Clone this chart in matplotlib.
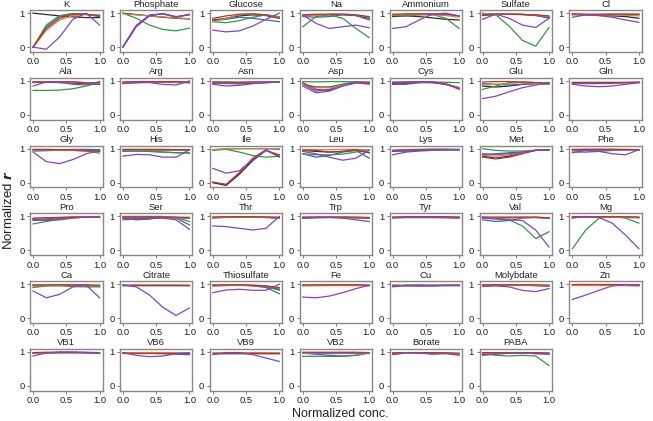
import matplotlib
matplotlib.use("Agg")
import matplotlib.pyplot as plt
import numpy as np

plt.rcParams['font.family'] = ['Liberation Sans', 'DejaVu Sans']

# panel names, row by row
names = ["K", "Phosphate", "Glucose", "Na", "Ammonium", "Sulfate", "Cl",
         "Ala", "Arg", "Asn", "Asp", "Cys", "Glu", "Gln",
         "Gly", "His", "Ile", "Leu", "Lys", "Met", "Phe",
         "Pro", "Ser", "Thr", "Trp", "Tyr", "Val", "Mg",
         "Ca", "Citrate", "Thiosulfate", "Fe", "Cu", "Molybdate", "Zn",
         "VB1", "VB6", "VB9", "VB2", "Borate", "PABA"]

# normalized conc. where curves were read
conc = [0.0, 0.2, 0.4, 0.6, 0.8, 1.0]

black_r = [
    [1.00, 0.96, 0.92, 0.89, 0.87, 0.87], [1.00, 0.96, 0.92, 0.88, 0.85, 0.83],
    [0.80, 0.85, 0.92, 0.95, 0.93, 0.85], [0.93, 0.95, 0.96, 0.96, 0.93, 0.85],
    [0.90, 0.92, 0.90, 0.86, 0.82, 0.80], [0.95, 0.96, 0.97, 0.96, 0.93, 0.88],
    [0.97, 0.95, 0.93, 0.92, 0.90, 0.85],
    [0.97, 0.96, 0.95, 0.94, 0.92, 0.90], [0.95, 0.96, 0.97, 0.97, 0.96, 0.95],
    [0.95, 0.93, 0.92, 0.93, 0.95, 0.96], [0.90, 0.82, 0.82, 0.90, 0.95, 0.93],
    [0.90, 0.93, 0.95, 0.95, 0.90, 0.80], [0.85, 0.82, 0.85, 0.90, 0.92, 0.90],
    [0.95, 0.94, 0.93, 0.94, 0.95, 0.96],
    [0.97, 0.96, 0.95, 0.95, 0.94, 0.93], [0.97, 0.96, 0.96, 0.96, 0.96, 0.96],
    [0.00, -0.08, 0.25, 0.65, 0.95, 0.78], [0.95, 0.92, 0.90, 0.92, 0.95, 0.88],
    [0.93, 0.94, 0.95, 0.96, 0.97, 0.97], [0.78, 0.72, 0.78, 0.88, 0.95, 0.95],
    [0.95, 0.96, 0.96, 0.96, 0.95, 0.95],
    [0.92, 0.94, 0.96, 0.98, 0.98, 0.98], [0.96, 0.95, 0.95, 0.96, 0.96, 0.95],
    [0.97, 0.98, 0.98, 0.98, 0.97, 0.96], [0.96, 0.97, 0.97, 0.97, 0.96, 0.95],
    [0.97, 0.98, 0.98, 0.98, 0.98, 0.97], [0.97, 0.96, 0.96, 0.97, 0.97, 0.95],
    [0.98, 0.98, 0.98, 0.98, 0.98, 0.97],
    [0.96, 0.96, 0.97, 0.97, 0.96, 0.95], [0.97, 0.97, 0.97, 0.97, 0.97, 0.97],
    [0.95, 0.96, 0.97, 0.96, 0.93, 0.85], [0.96, 0.97, 0.97, 0.97, 0.97, 0.96],
    [0.97, 0.97, 0.97, 0.97, 0.97, 0.97], [0.97, 0.97, 0.97, 0.97, 0.96, 0.95],
    [0.98, 0.98, 0.98, 0.98, 0.98, 0.97],
    [0.97, 0.98, 0.98, 0.98, 0.98, 0.97], [0.97, 0.97, 0.97, 0.97, 0.96, 0.95],
    [0.97, 0.97, 0.97, 0.97, 0.97, 0.97], [0.98, 0.98, 0.98, 0.98, 0.98, 0.97],
    [0.96, 0.97, 0.97, 0.97, 0.96, 0.95], [0.96, 0.97, 0.97, 0.97, 0.96, 0.95],
]

red_r = [
    [0.00, 0.55, 0.85, 0.97, 0.97, 0.92], [0.00, 0.62, 0.93, 0.98, 0.88, 0.96],
    [0.85, 0.92, 0.97, 0.98, 0.95, 0.85], [0.95, 0.97, 0.97, 0.97, 0.95, 0.90],
    [0.97, 0.98, 0.98, 0.97, 0.97, 0.92], [0.95, 0.97, 0.97, 0.96, 0.95, 0.92],
    [0.98, 0.97, 0.97, 0.97, 0.97, 0.97],
    [0.97, 0.97, 0.97, 0.97, 0.94, 0.90], [0.97, 0.98, 0.98, 0.98, 0.98, 0.97],
    [0.97, 0.96, 0.96, 0.97, 0.97, 0.97], [0.95, 0.75, 0.72, 0.85, 0.95, 0.97],
    [0.92, 0.95, 0.98, 0.97, 0.92, 0.75], [0.97, 0.98, 0.98, 0.97, 0.95, 0.93],
    [0.97, 0.97, 0.97, 0.97, 0.97, 0.97],
    [0.98, 0.98, 0.97, 0.96, 0.95, 0.92], [0.98, 0.98, 0.98, 0.98, 0.97, 0.97],
    [0.02, -0.05, 0.30, 0.72, 0.97, 0.75], [0.95, 0.95, 0.90, 0.92, 0.97, 0.88],
    [0.95, 0.96, 0.97, 0.97, 0.97, 0.97], [0.75, 0.70, 0.75, 0.85, 0.95, 0.97],
    [0.98, 0.98, 0.98, 0.98, 0.98, 0.97],
    [0.95, 0.96, 0.97, 0.98, 0.98, 0.98], [0.98, 0.98, 0.98, 0.98, 0.98, 0.97],
    [0.98, 0.99, 0.99, 0.99, 0.98, 0.97], [0.98, 0.98, 0.98, 0.98, 0.98, 0.97],
    [0.98, 0.99, 0.99, 0.99, 0.99, 0.98], [0.98, 0.98, 0.98, 0.98, 0.98, 0.96],
    [0.99, 0.99, 0.99, 0.99, 0.99, 0.98],
    [0.98, 0.98, 0.98, 0.98, 0.98, 0.97], [0.98, 0.98, 0.98, 0.98, 0.98, 0.98],
    [0.97, 0.98, 0.98, 0.97, 0.95, 0.90], [0.98, 0.98, 0.98, 0.98, 0.98, 0.97],
    [0.98, 0.98, 0.98, 0.98, 0.98, 0.98], [0.98, 0.98, 0.98, 0.98, 0.98, 0.97],
    [0.99, 0.99, 0.99, 0.99, 0.99, 0.98],
    [0.98, 0.99, 0.99, 0.99, 0.99, 0.98], [0.98, 0.98, 0.98, 0.98, 0.98, 0.98],
    [0.98, 0.98, 0.98, 0.98, 0.98, 0.98], [0.99, 0.99, 0.99, 0.99, 0.99, 0.98],
    [0.97, 0.98, 0.98, 0.98, 0.97, 0.96], [0.98, 0.98, 0.98, 0.98, 0.98, 0.97],
]

orange_r = [
    [0.00, 0.50, 0.80, 0.93, 0.96, 0.95], [0.98, 0.95, 0.92, 0.89, 0.86, 0.84],
    [0.75, 0.85, 0.95, 0.98, 0.95, 0.88], [0.92, 0.94, 0.97, 0.97, 0.95, 0.88],
    [0.95, 0.96, 0.96, 0.95, 0.93, 0.88], [0.98, 0.99, 0.98, 0.96, 0.95, 0.90],
    [0.97, 0.96, 0.95, 0.95, 0.94, 0.92],
    [0.98, 0.98, 0.97, 0.96, 0.94, 0.92], [0.96, 0.97, 0.97, 0.97, 0.97, 0.96],
    [0.96, 0.95, 0.95, 0.96, 0.96, 0.96], [0.90, 0.80, 0.80, 0.88, 0.93, 0.95],
    [0.93, 0.95, 0.97, 0.96, 0.92, 0.80], [0.88, 0.90, 0.93, 0.95, 0.93, 0.90],
    [0.96, 0.96, 0.96, 0.96, 0.96, 0.96],
    [0.97, 0.97, 0.96, 0.96, 0.95, 0.94], [0.97, 0.97, 0.97, 0.97, 0.97, 0.96],
    [0.97, 1.00, 1.00, 1.00, 1.00, 1.00], [0.98, 0.97, 0.97, 0.98, 0.98, 0.97],
    [0.94, 0.95, 0.96, 0.97, 0.97, 0.97], [0.80, 0.78, 0.82, 0.88, 0.95, 0.95],
    [0.96, 0.97, 0.97, 0.97, 0.96, 0.96],
    [0.94, 0.95, 0.97, 0.98, 0.98, 0.98], [0.97, 0.97, 0.97, 0.97, 0.97, 0.96],
    [0.97, 0.98, 0.98, 0.98, 0.98, 0.97], [0.97, 0.97, 0.97, 0.97, 0.97, 0.96],
    [0.97, 0.98, 0.98, 0.98, 0.98, 0.97], [0.97, 0.97, 0.97, 0.97, 0.97, 0.96],
    [0.98, 0.98, 0.98, 0.98, 0.98, 0.97],
    [0.97, 0.97, 0.97, 0.97, 0.97, 0.96], [0.97, 0.97, 0.97, 0.97, 0.97, 0.97],
    [0.96, 0.97, 0.97, 0.97, 0.95, 0.88], [0.97, 0.97, 0.97, 0.97, 0.97, 0.97],
    [0.97, 0.97, 0.97, 0.97, 0.97, 0.97], [0.97, 0.97, 0.97, 0.97, 0.97, 0.96],
    [0.98, 0.98, 0.98, 0.98, 0.98, 0.98],
    [0.97, 0.98, 0.98, 0.98, 0.98, 0.97], [0.97, 0.98, 0.98, 0.98, 0.98, 0.97],
    [0.97, 0.98, 0.98, 0.98, 0.98, 0.97], [0.98, 0.98, 0.98, 0.98, 0.98, 0.98],
    [0.97, 0.97, 0.97, 0.97, 0.97, 0.96], [0.97, 0.97, 0.97, 0.97, 0.97, 0.96],
]

blue_r = [
    [0.00, 0.60, 0.90, 0.98, 0.96, 0.90], [0.02, 0.64, 0.95, 0.98, 0.90, 0.95],
    [0.78, 0.82, 0.88, 0.85, 0.80, 0.75], [0.90, 0.88, 0.90, 0.95, 0.93, 0.80],
    [0.93, 0.97, 0.98, 0.98, 0.97, 0.92], [0.93, 0.96, 0.98, 0.97, 0.94, 0.85],
    [0.95, 0.95, 0.96, 0.97, 0.97, 0.95],
    [0.95, 0.97, 0.98, 0.97, 0.95, 0.95], [0.94, 0.95, 0.96, 0.96, 0.95, 0.95],
    [0.93, 0.92, 0.92, 0.94, 0.96, 0.97], [0.90, 0.70, 0.75, 0.90, 0.98, 0.95],
    [0.90, 0.90, 0.95, 0.97, 0.90, 0.80], [0.92, 0.90, 0.88, 0.90, 0.93, 0.95],
    [0.93, 0.92, 0.92, 0.93, 0.95, 0.96],
    [0.93, 0.94, 0.96, 0.98, 0.98, 0.97], [0.92, 0.93, 0.92, 0.90, 0.88, 0.88],
    [0.97, 0.99, 1.00, 1.00, 1.00, 0.98], [0.85, 0.75, 0.80, 0.90, 0.95, 0.72],
    [0.82, 0.90, 0.93, 0.95, 0.97, 0.97], [0.82, 0.85, 0.88, 0.90, 0.95, 0.95],
    [0.90, 0.90, 0.92, 0.95, 0.95, 0.95],
    [0.88, 0.90, 0.93, 0.96, 0.98, 0.98], [0.95, 0.90, 0.92, 0.98, 0.95, 0.75],
    [0.95, 0.97, 0.98, 0.98, 0.97, 0.95], [0.95, 0.96, 0.97, 0.97, 0.96, 0.95],
    [0.96, 0.97, 0.97, 0.97, 0.97, 0.96], [0.90, 0.85, 0.88, 0.95, 0.97, 0.95],
    [0.97, 0.98, 0.98, 0.98, 0.97, 0.96],
    [0.95, 0.96, 0.97, 0.97, 0.96, 0.95], [0.96, 0.97, 0.97, 0.97, 0.97, 0.96],
    [0.97, 0.97, 0.97, 0.95, 0.90, 0.72], [0.96, 0.96, 0.97, 0.97, 0.97, 0.96],
    [0.96, 0.96, 0.97, 0.97, 0.97, 0.96], [0.96, 0.97, 0.97, 0.97, 0.96, 0.95],
    [0.97, 0.97, 0.98, 0.98, 0.98, 0.97],
    [0.96, 0.97, 0.98, 0.98, 0.97, 0.96], [0.98, 0.97, 0.96, 0.95, 0.93, 0.92],
    [0.97, 0.97, 0.97, 0.97, 0.97, 0.97], [0.97, 0.93, 0.90, 0.88, 0.90, 0.97],
    [0.95, 0.96, 0.97, 0.97, 0.96, 0.94], [0.92, 0.95, 0.97, 0.97, 0.95, 0.93],
]

green_r = [
    [0.00, 0.65, 0.93, 0.99, 0.97, 0.92], [1.00, 0.85, 0.65, 0.52, 0.48, 0.56],
    [0.75, 0.72, 0.78, 0.88, 0.95, 0.90], [0.60, 0.90, 0.95, 0.85, 0.55, 0.28],
    [0.93, 0.92, 0.95, 0.96, 0.85, 0.55], [1.00, 0.95, 0.62, 0.20, 0.03, 0.58],
    [0.97, 0.96, 0.95, 0.95, 0.96, 0.97],
    [0.72, 0.72, 0.73, 0.77, 0.85, 0.95], [0.93, 0.95, 0.97, 0.98, 0.97, 0.95],
    [0.97, 0.97, 0.96, 0.96, 0.96, 0.97], [0.98, 0.97, 0.98, 0.98, 0.97, 0.95],
    [0.97, 0.97, 0.97, 0.97, 0.96, 0.95], [0.75, 0.85, 0.95, 0.97, 0.95, 0.90],
    [0.97, 0.97, 0.97, 0.97, 0.97, 0.97],
    [0.97, 0.97, 0.96, 0.95, 0.93, 0.87], [0.95, 0.93, 0.92, 0.90, 0.88, 0.87],
    [0.95, 0.98, 0.90, 0.80, 0.75, 0.78], [0.85, 0.82, 0.82, 0.84, 0.90, 0.97],
    [0.95, 0.97, 0.98, 0.99, 0.99, 0.98], [1.00, 0.95, 0.93, 0.93, 0.95, 0.97],
    [0.97, 0.98, 0.98, 0.98, 0.97, 0.96],
    [0.78, 0.85, 0.92, 0.97, 0.98, 0.98], [1.00, 1.00, 1.00, 1.00, 0.97, 0.85],
    [0.97, 0.98, 0.98, 0.98, 0.98, 0.97], [0.97, 0.98, 0.98, 0.98, 0.97, 0.96],
    [0.98, 0.98, 0.98, 0.98, 0.98, 0.98], [0.98, 0.95, 0.90, 0.72, 0.35, 0.55],
    [0.05, 0.60, 0.95, 1.00, 0.95, 0.80],
    [0.90, 0.95, 0.95, 0.93, 0.92, 0.92], [0.97, 0.97, 0.97, 0.97, 0.97, 0.97],
    [0.97, 0.97, 0.97, 0.96, 0.93, 0.82], [0.97, 0.97, 0.97, 0.97, 0.97, 0.97],
    [0.97, 0.95, 0.94, 0.95, 0.96, 0.97], [0.97, 0.97, 0.97, 0.97, 0.97, 0.97],
    [0.98, 0.98, 0.97, 0.97, 0.96, 0.95],
    [0.97, 0.97, 0.98, 0.98, 0.98, 0.97], [0.97, 0.98, 0.98, 0.98, 0.98, 0.97],
    [0.97, 0.97, 0.97, 0.97, 0.97, 0.97], [0.87, 0.87, 0.87, 0.87, 0.90, 0.97],
    [0.94, 0.96, 0.97, 0.97, 0.96, 0.95], [0.97, 0.90, 0.88, 0.90, 0.88, 0.60],
]

purple_r = [
    [0.00, -0.06, 0.30, 0.82, 1.00, 0.65], [0.00, 0.60, 0.92, 0.99, 0.89, 0.97],
    [0.50, 0.45, 0.48, 0.62, 0.82, 1.00], [0.95, 0.70, 0.55, 0.60, 0.65, 0.57],
    [0.55, 0.60, 0.80, 0.97, 1.00, 0.92], [0.82, 0.97, 0.85, 0.65, 0.58, 0.85],
    [0.88, 0.95, 0.93, 0.88, 0.80, 0.73],
    [0.85, 0.97, 0.96, 0.90, 0.88, 0.98], [0.92, 0.95, 0.95, 0.90, 0.88, 1.00],
    [0.90, 0.85, 0.87, 0.92, 0.95, 0.97], [0.85, 0.65, 0.70, 0.85, 0.95, 0.90],
    [0.95, 0.97, 0.97, 0.95, 0.90, 0.78], [0.48, 0.55, 0.68, 0.80, 0.88, 0.95],
    [0.90, 0.85, 0.83, 0.85, 0.90, 0.95],
    [0.90, 0.62, 0.56, 0.68, 0.85, 0.95], [0.78, 0.83, 0.82, 0.75, 0.75, 0.97],
    [0.42, 0.28, 0.35, 0.68, 0.95, 0.82], [0.92, 0.85, 0.75, 0.66, 0.72, 0.95],
    [0.92, 0.93, 0.95, 0.96, 0.97, 0.97], [0.85, 0.83, 0.85, 0.90, 0.96, 0.95],
    [0.88, 0.95, 0.92, 0.85, 0.82, 0.97],
    [0.90, 0.88, 0.90, 0.95, 0.98, 1.00], [0.90, 0.92, 0.95, 0.95, 0.90, 0.62],
    [0.72, 0.70, 0.65, 0.60, 0.65, 1.00], [0.95, 0.97, 0.97, 0.95, 0.90, 0.85],
    [0.96, 0.97, 0.97, 0.97, 0.96, 0.95], [0.95, 0.92, 0.90, 0.88, 0.60, 0.10],
    [0.95, 1.00, 0.97, 0.80, 0.45, 0.05],
    [0.80, 0.60, 0.70, 0.92, 0.97, 0.60], [0.98, 0.92, 0.68, 0.32, 0.08, 0.30],
    [0.75, 0.83, 0.85, 0.82, 0.82, 1.00], [0.62, 0.60, 0.65, 0.75, 0.87, 0.97],
    [0.92, 0.97, 0.97, 0.95, 0.97, 0.97], [0.93, 0.95, 0.92, 0.82, 0.78, 0.87],
    [0.55, 0.68, 0.82, 0.95, 0.98, 0.97],
    [0.88, 0.97, 1.00, 1.00, 0.98, 0.97], [0.98, 0.90, 0.86, 0.88, 0.95, 0.97],
    [0.92, 0.98, 0.98, 0.92, 0.82, 0.72], [0.98, 0.97, 0.97, 0.97, 0.97, 0.97],
    [0.92, 0.98, 0.97, 0.93, 0.95, 0.90], [0.90, 0.93, 0.96, 0.97, 0.95, 0.95],
]

series = [(black_r, '#2a2a2a'), (blue_r, '#3b62c8'), (green_r, '#2f9a3f'),
          (orange_r, '#c98a3c'), (red_r, '#c2302a'), (purple_r, '#8443c4')]

fig, axes = plt.subplots(6, 7, figsize=(6.53, 4.21), dpi=100)
plt.subplots_adjust(left=0.046, right=0.983, top=0.976, bottom=0.072,
                    wspace=0.24, hspace=0.62)
axes = axes.ravel()

for i, ax in enumerate(axes):
    if i >= len(names):
        ax.axis('off')
        continue
    for vals, col in series:
        ax.plot(conc, vals[i], color=col, lw=0.9)
    ax.set_xlim(-0.045, 1.045)
    ax.set_ylim(-0.14, 1.09)
    ax.set_xticks([0, 0.5, 1.0])
    ax.set_xticklabels(["0.0", "0.5", "1.0"])
    ax.set_yticks([0, 1])
    ax.set_yticklabels(["0", "1"])
    ax.tick_params(labelsize=6.8, length=2.5, width=0.7, pad=1.5,
                   color='#777777', labelcolor='#222222')
    for sp in ax.spines.values():
        sp.set_color('#888888')
        sp.set_linewidth(1.0)
    ax.set_title(names[i], fontsize=6.8, pad=2.5, color='#222222')

fig.text(0.521, 0.016, "Normalized conc.", fontsize=9, ha='center', va='center',
         color='#222222')
fig.text(0.013, 0.5, r"Normalized $\boldsymbol{r}$", fontsize=9.5, rotation=90,
         ha='center', va='center', color='#222222')

fig.savefig("out.png", dpi=100)
